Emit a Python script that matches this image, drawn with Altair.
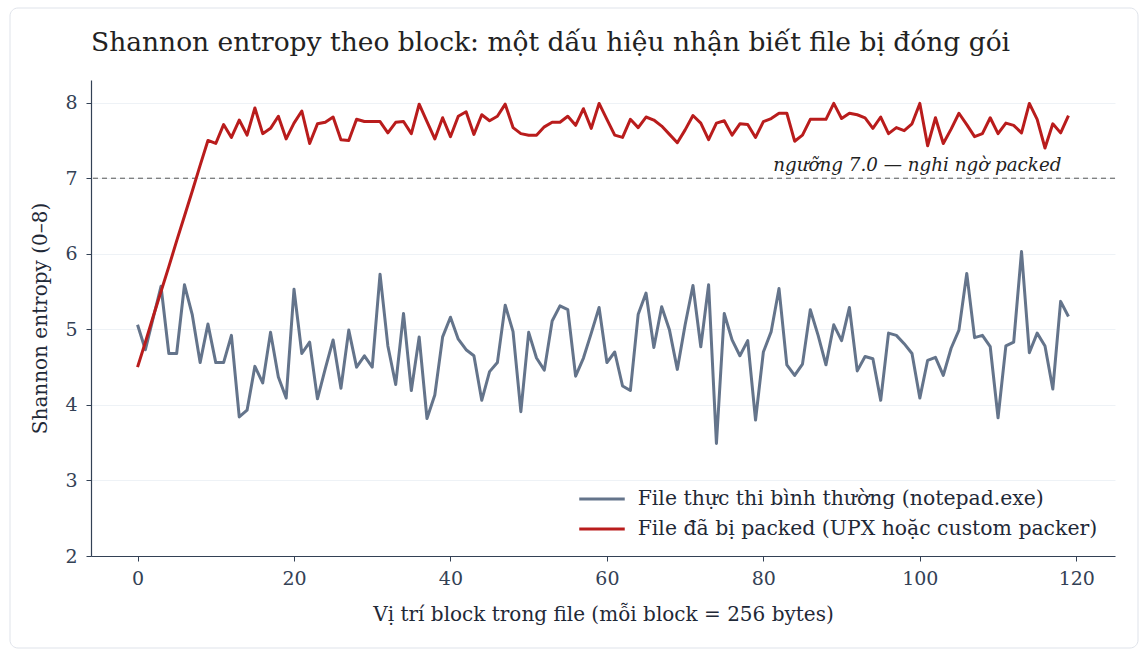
import altair as alt
import pandas as pd

# Block index along the file (each block = 256 bytes)
blocks = list(range(120))

# Shannon entropy per block for an ordinary executable
normal_entropy = [
    5.06, 4.73, 5.15, 5.57, 4.68, 4.68, 5.59, 5.19, 4.56, 5.07,
    4.56, 4.56, 4.92, 3.84, 3.93, 4.51, 4.29, 4.96, 4.37, 4.09,
    5.53, 4.68, 4.83, 4.08, 4.48, 4.86, 4.22, 4.99, 4.50, 4.65,
    4.50, 5.73, 4.78, 4.27, 5.21, 4.19, 4.90, 3.82, 4.13, 4.90,
    5.16, 4.87, 4.73, 4.65, 4.06, 4.44, 4.56, 5.32, 4.97, 3.91,
    4.96, 4.62, 4.46, 5.11, 5.31, 5.26, 4.38, 4.62, 4.95, 5.29,
    4.56, 4.70, 4.25, 4.19, 5.20, 5.48, 4.76, 5.30, 4.99, 4.47,
    5.06, 5.58, 4.77, 5.59, 3.49, 5.21, 4.86, 4.65, 4.85, 3.80,
    4.70, 4.97, 5.54, 4.53, 4.39, 4.54, 5.26, 4.92, 4.53, 5.06,
    4.85, 5.29, 4.45, 4.64, 4.61, 4.06, 4.95, 4.92, 4.81, 4.68,
    4.09, 4.59, 4.63, 4.39, 4.75, 4.99, 5.74, 4.89, 4.92, 4.77,
    3.83, 4.78, 4.83, 6.03, 4.69, 4.95, 4.78, 4.21, 5.37, 5.17,
]

# Shannon entropy per block for a packed executable
packed_entropy = [
    4.50, 4.83, 5.17, 5.50, 5.83, 6.17, 6.50, 6.83, 7.17, 7.50,
    7.46, 7.71, 7.54, 7.77, 7.57, 7.93, 7.59, 7.66, 7.82, 7.52,
    7.73, 7.89, 7.46, 7.72, 7.74, 7.81, 7.51, 7.50, 7.78, 7.75,
    7.75, 7.75, 7.60, 7.74, 7.75, 7.59, 7.98, 7.75, 7.52, 7.80,
    7.55, 7.82, 7.88, 7.58, 7.84, 7.76, 7.82, 7.98, 7.67, 7.59,
    7.57, 7.57, 7.68, 7.74, 7.74, 7.82, 7.70, 7.92, 7.66, 7.99,
    7.78, 7.57, 7.54, 7.78, 7.67, 7.81, 7.77, 7.69, 7.58, 7.47,
    7.64, 7.83, 7.73, 7.51, 7.73, 7.76, 7.57, 7.72, 7.71, 7.54,
    7.75, 7.79, 7.86, 7.86, 7.49, 7.57, 7.78, 7.78, 7.78, 7.99,
    7.79, 7.86, 7.84, 7.80, 7.66, 7.81, 7.59, 7.67, 7.63, 7.72,
    7.99, 7.43, 7.80, 7.46, 7.65, 7.86, 7.71, 7.55, 7.59, 7.80,
    7.59, 7.73, 7.70, 7.60, 7.99, 7.78, 7.40, 7.72, 7.60, 7.83,
]

series_names = [
    "File thực thi bình thường (notepad.exe)",
    "File đã bị packed (UPX hoặc custom packer)",
]
series_colors = ["#64748b", "#b91c1c"]

threshold = [7.0]
threshold_label = ["ngưỡng 7.0 — nghi ngờ packed"]
threshold_label_x = [118.1]

FONT = "DejaVu Serif"

normal_df = pd.DataFrame({"block": blocks, "entropy": normal_entropy, "series": series_names[0]})
packed_df = pd.DataFrame({"block": blocks, "entropy": packed_entropy, "series": series_names[1]})
thr_df = pd.DataFrame({"y": threshold, "x": threshold_label_x, "label": threshold_label})

x_scale = alt.Scale(domain=[-5.95, 124.95], nice=False, zero=False)
y_scale = alt.Scale(domain=[2, 8.3], nice=False, zero=False)
color_scale = alt.Scale(domain=series_names, range=series_colors)

x_enc = alt.X(
    "block:Q", scale=x_scale,
    axis=alt.Axis(title="Vị trí block trong file (mỗi block = 256 bytes)",
                  values=[0, 20, 40, 60, 80, 100, 120], grid=False, format="d",
                  labelPadding=8, titlePadding=16),
)
y_enc = alt.Y(
    "entropy:Q", scale=y_scale,
    axis=alt.Axis(title="Shannon entropy (0–8)", values=[2, 3, 4, 5, 6, 7, 8], grid=True,
                  format="d", labelPadding=9, titlePadding=14),
)

# a long horizontal stroke drawn on a small symbol size keeps the rows tight
legend = alt.Legend(
    title=None, orient="none", legendX=492, legendY=400,
    symbolType="M-1.3,0L1.3,0", symbolStrokeWidth=3, symbolSize=1225,
    labelFont=FONT, labelFontSize=20.4, labelColor="#1f2937", labelOffset=16.7,
    labelLimit=0, rowPadding=0,
)

normal_line = alt.Chart(normal_df).mark_line(strokeWidth=3, strokeJoin="round").encode(
    x=x_enc, y=y_enc,
    color=alt.Color("series:N", scale=color_scale, legend=legend),
)
packed_line = alt.Chart(packed_df).mark_line(strokeWidth=3, strokeJoin="round").encode(
    x="block:Q", y="entropy:Q",
    color=alt.Color("series:N", scale=color_scale, legend=legend),
)

thr_rule = alt.Chart(thr_df).mark_rule(color="#555555", strokeWidth=1, strokeDash=[5, 4]).encode(
    y=alt.Y("y:Q", scale=y_scale)
)
thr_text = alt.Chart(thr_df).mark_text(
    font=FONT, fontSize=18.3, fontStyle="italic", align="right", baseline="bottom",
    dy=-3, color="#222222",
).encode(x=alt.X("x:Q", scale=x_scale), y=alt.Y("y:Q", scale=y_scale), text="label:N")

# rounded card frame around the whole figure
frame = alt.Chart(thr_df).mark_rect(
    fill="transparent", stroke="#dfe3ea", strokeWidth=1, cornerRadius=8, clip=False,
).encode(x=alt.value(-81), x2=alt.value(1047), y=alt.value(-72), y2=alt.value(568))

# the card frame extends the group bounds upward, so the title offset is negative
chart = alt.layer(frame, thr_rule, normal_line, packed_line, thr_text).properties(
    width=1024, height=476,
    title=alt.TitleParams(
        "Shannon entropy theo block: một dấu hiệu nhận biết file bị đóng gói",
        anchor="start", frame="group", font=FONT, fontSize=26.5, fontWeight="normal",
        color="#222222", baseline="alphabetic", offset=-70,
    ),
    autosize=alt.AutoSizeParams(type="none"),
    padding={"left": 91, "top": 80, "right": 31, "bottom": 97},
).configure(background="white").configure_view(stroke=None).configure_axis(
    labelFont=FONT, labelFontSize=19, labelColor="#334155",
    titleFont=FONT, titleFontSize=20, titleFontWeight="normal", titleColor="#1f2937",
    domainColor="#334155", domainWidth=1.2, tickColor="#334155", tickSize=5,
    gridColor="#eef2f6", gridWidth=1,
)

chart.save("out.html", embed_options={"renderer": "svg", "actions": False})
